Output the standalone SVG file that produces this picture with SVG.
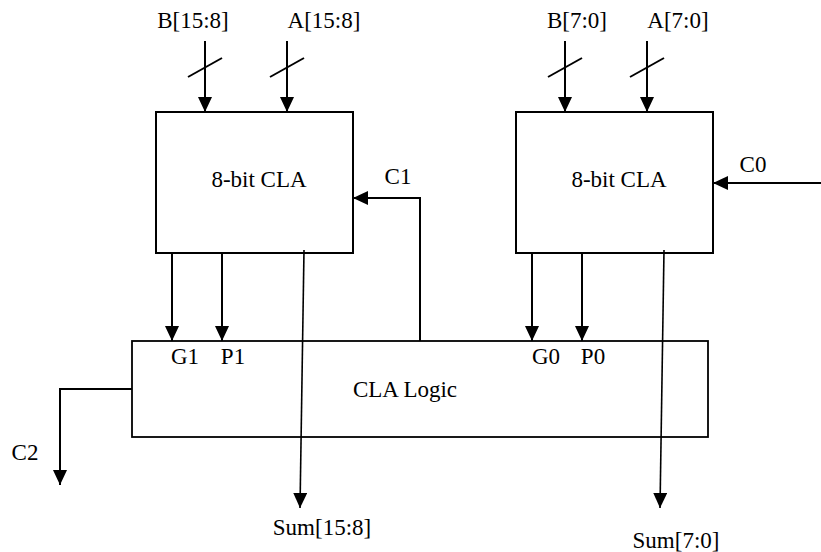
<svg xmlns="http://www.w3.org/2000/svg" width="821" height="552" viewBox="0 0 821 552">
<style>
.box{fill:#fff;stroke:#000;stroke-width:2}
.ln{fill:none;stroke:#000;stroke-width:2}
.thin{fill:none;stroke:#000;stroke-width:1.6}
text{font-family:"Liberation Serif","Times New Roman",serif;font-size:23px;fill:#000}
.c{text-anchor:middle}
</style>
<defs>
<marker id="ah" markerUnits="userSpaceOnUse" viewBox="0 0 15 14" markerWidth="15" markerHeight="14" refX="15" refY="7" orient="auto">
<path d="M0,0 L15,7 L0,14 z" fill="#000"/>
</marker>
</defs>
<rect width="821" height="552" fill="#fff"/>
<g id="cla_hi">
<rect class="box" x="156" y="112" width="197" height="141"/>
<text class="c" x="259" y="187">8-bit CLA</text>
</g>
<g id="cla_lo">
<rect class="box" x="516" y="112" width="197" height="141"/>
<text class="c" x="619" y="187">8-bit CLA</text>
</g>
<g id="cla_logic">
<rect class="box" x="132" y="341" width="576" height="96" style="stroke-width:1.8"/>
<text class="c" x="405" y="397">CLA Logic</text>
<text class="c" x="185" y="364">G1</text>
<text class="c" x="233" y="364">P1</text>
<text class="c" x="546" y="364">G0</text>
<text class="c" x="593" y="364">P0</text>
</g>
<g id="labels">
<text class="c" x="193" y="28">B[15:8]</text>
<text class="c" x="324" y="28">A[15:8]</text>
<text class="c" x="577" y="28">B[7:0]</text>
<text class="c" x="678" y="28">A[7:0]</text>
<text class="c" x="753" y="172">C0</text>
<text class="c" x="398" y="184">C1</text>
<text class="c" x="25" y="460">C2</text>
<text class="c" x="322" y="535">Sum[15:8]</text>
<text class="c" x="676" y="548">Sum[7:0]</text>
</g>
<g id="connectors">
<line class="ln" x1="205" y1="41" x2="205" y2="112" marker-end="url(#ah)"/>
<line class="ln" x1="287" y1="41" x2="287" y2="112" marker-end="url(#ah)"/>
<line class="ln" x1="565" y1="41" x2="565" y2="112" marker-end="url(#ah)"/>
<line class="ln" x1="647" y1="41" x2="647" y2="112" marker-end="url(#ah)"/>
<line class="ln" x1="188" y1="77" x2="222" y2="58"/>
<line class="ln" x1="270" y1="77" x2="304" y2="58"/>
<line class="ln" x1="548" y1="77" x2="582" y2="58"/>
<line class="ln" x1="630" y1="77" x2="664" y2="58"/>
<line class="ln" x1="821" y1="183" x2="713" y2="183" marker-end="url(#ah)"/>
<polyline class="ln" points="420,341 420,198 353,198" marker-end="url(#ah)"/>
<line class="ln" x1="172" y1="253" x2="172" y2="341" marker-end="url(#ah)"/>
<line class="ln" x1="222" y1="253" x2="222" y2="341" marker-end="url(#ah)"/>
<line class="ln" x1="532" y1="253" x2="532" y2="341" marker-end="url(#ah)"/>
<line class="ln" x1="582" y1="253" x2="582" y2="341" marker-end="url(#ah)"/>
<line class="thin" x1="304" y1="250" x2="300" y2="508" marker-end="url(#ah)"/>
<line class="thin" x1="664" y1="250" x2="660" y2="508" marker-end="url(#ah)"/>
<polyline class="ln" points="132,389 60,389 60,485" marker-end="url(#ah)"/>
</g>
</svg>
